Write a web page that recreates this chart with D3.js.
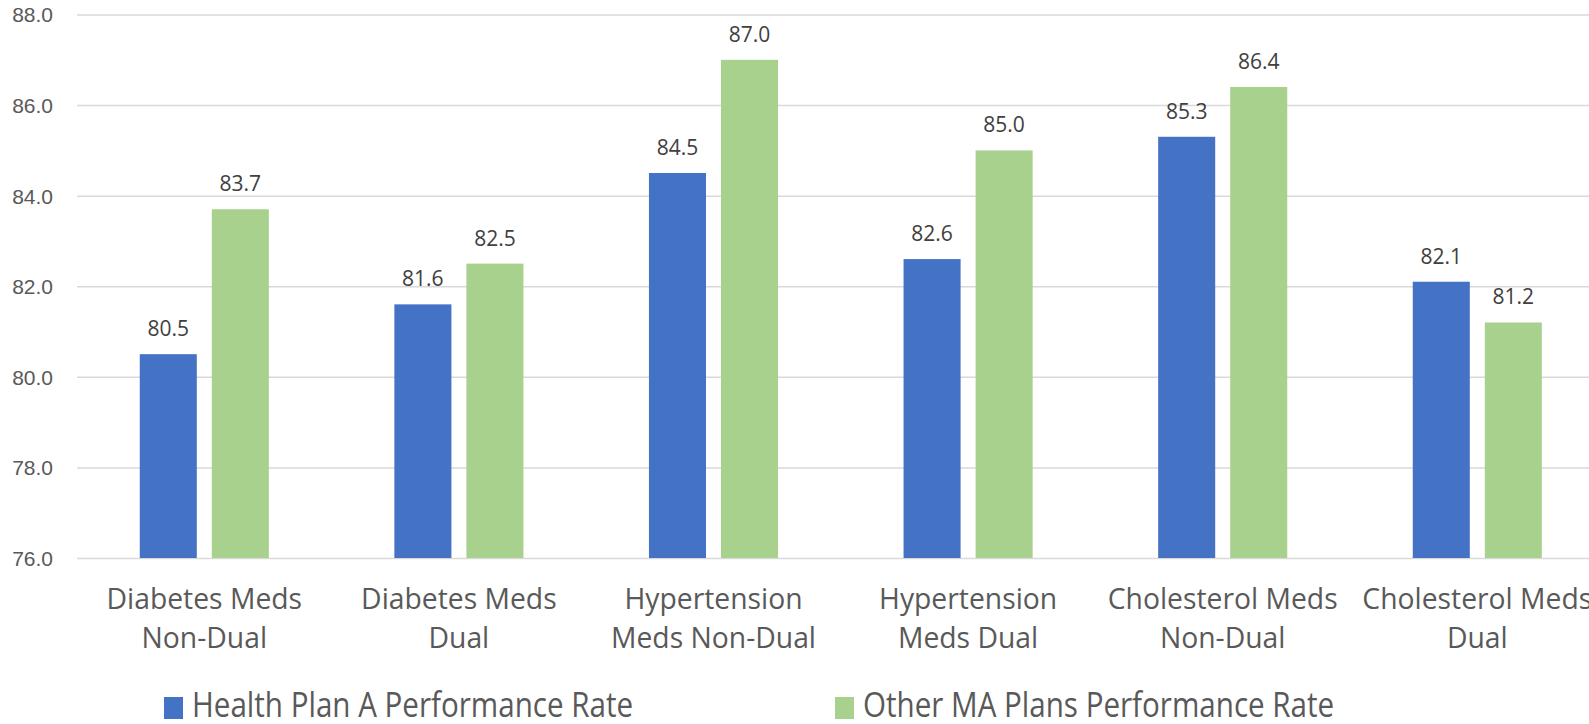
<!DOCTYPE html>
<html>
<head>
<meta charset="utf-8">
<script src="https://cdn.jsdelivr.net/npm/d3@7"></script>
<style>
  html, body { margin: 0; padding: 0; background: #fff; overflow: hidden; }
  svg { display: block; font-family: "Open Sans", sans-serif; }
</style>
</head>
<body>
<svg id="chart" width="1589" height="724"></svg>
<script>
// Medication adherence rates by measure and dual status
const categories = [
  ["Diabetes Meds", "Non-Dual"],
  ["Diabetes Meds", "Dual"],
  ["Hypertension", "Meds Non-Dual"],
  ["Hypertension", "Meds Dual"],
  ["Cholesterol Meds", "Non-Dual"],
  ["Cholesterol Meds", "Dual"]
];
const seriesNames = ["Health Plan A Performance Rate", "Other MA Plans Performance Rate"];
const planA = [80.5, 81.6, 84.5, 82.6, 85.3, 82.1];
const otherMA = [83.7, 82.5, 87.0, 85.0, 86.4, 81.2];
const yTicks = [76, 78, 80, 82, 84, 86, 88];
const colors = ["#4472C4", "#A9D18E"];

const svg = d3.select("#chart");
const plotLeft = 77, step = 254.6;
const catKeys = categories.map((c, i) => i);

const x0 = d3.scaleBand()
  .domain(catKeys)
  .range([plotLeft, plotLeft + step * categories.length])
  .paddingInner(0.493)
  .paddingOuter(0.2465);
const x1 = d3.scaleBand()
  .domain([0, 1])
  .range([0, x0.bandwidth()])
  .paddingInner(0.2083);
const y = d3.scaleLinear().domain([76, 88]).range([558, 14.5]);

// Gridlines and value axis labels
const yAxis = d3.axisLeft(y).tickValues(yTicks).tickFormat(d3.format(".1f"))
  .tickSize(-(step * categories.length)).tickPadding(24);
const gy = svg.append("g").attr("transform", `translate(${plotLeft},0)`).call(yAxis);
gy.select(".domain").remove();
gy.selectAll(".tick line").attr("stroke", "#D9D9D9").attr("stroke-width", 1.5);
gy.selectAll(".tick text").attr("fill", "#595959").attr("font-size", 21)
  .attr("dy", "0.35em");

// Bars
const data = [planA, otherMA];
const groups = svg.append("g").selectAll("g")
  .data(catKeys).join("g")
  .attr("transform", i => `translate(${x0(i)},0)`);

groups.selectAll("rect")
  .data(i => data.map((s, k) => ({ k, v: s[i] })))
  .join("rect")
  .attr("x", d => x1(d.k))
  .attr("width", x1.bandwidth())
  .attr("y", d => y(d.v))
  .attr("height", d => y(76) - y(d.v))
  .attr("fill", d => colors[d.k]);

// Data labels
groups.selectAll("text.val")
  .data(i => data.map((s, k) => ({ k, v: s[i] })))
  .join("text")
  .attr("class", "val")
  .attr("x", d => x1(d.k) + x1.bandwidth() / 2)
  .attr("y", d => y(d.v) - 18)
  .attr("text-anchor", "middle")
  .attr("font-size", 21)
  .attr("fill", "#404040")
  .text(d => d.v.toFixed(1));

// Category labels (two lines)
const catLabels = svg.append("g").selectAll("text")
  .data(catKeys).join("text")
  .attr("text-anchor", "middle")
  .attr("font-size", 28.3)
  .attr("fill", "#595959");
catLabels.selectAll("tspan")
  .data(i => categories[i].map(line => ({ i, line })))
  .join("tspan")
  .attr("x", d => x0(d.i) + x0.bandwidth() / 2)
  .attr("y", (d, j) => 609 + j * 39)
  .text(d => d.line);

// Legend (text drawn slightly condensed)
const legendItems = [
  { name: seriesNames[0], color: colors[0], x: 164 },
  { name: seriesNames[1], color: colors[1], x: 835 }
];
const lg = svg.append("g").selectAll("g").data(legendItems).join("g")
  .attr("transform", d => `translate(${d.x},0)`);
lg.append("rect").attr("x", 0).attr("y", 697).attr("width", 19).attr("height", 22)
  .attr("fill", d => d.color);
lg.append("text")
  .attr("transform", "translate(28,717) scale(0.87,1)")
  .attr("font-size", 34).attr("fill", "#595959")
  .text(d => d.name);
</script>
</body>
</html>
